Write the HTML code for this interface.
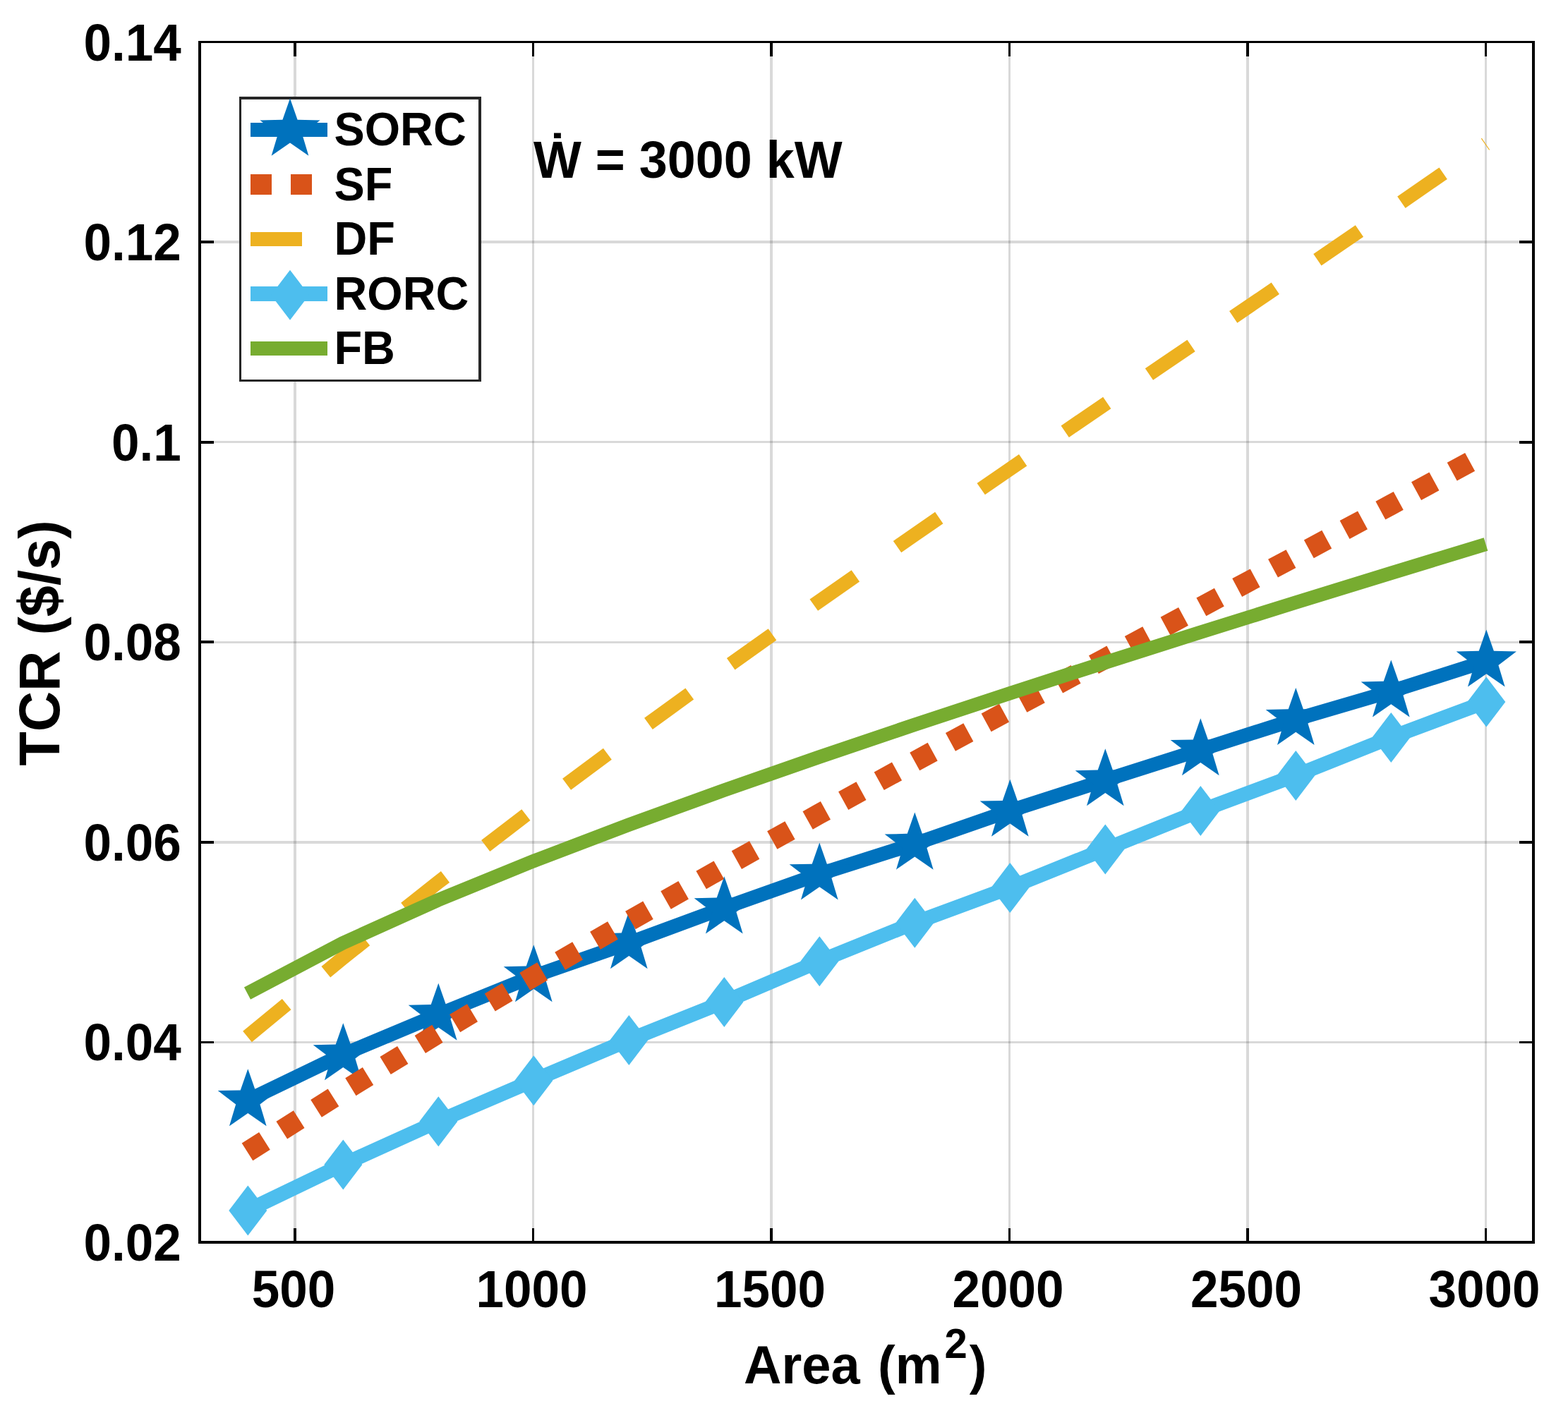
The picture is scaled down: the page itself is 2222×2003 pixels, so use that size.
<!DOCTYPE html>
<html><head><meta charset="utf-8"><title>TCR vs Area</title><style>html,body{margin:0;padding:0;background:#fff;overflow:hidden}svg{display:block}</style></head><body>
<svg width="2222" height="2003" viewBox="0 0 2222 2003">
<rect x="0" y="0" width="2222" height="2003" fill="#fff"/>
<path d="M418.00 61V1759 M755.50 61V1759 M1093.00 61V1759 M1430.50 61V1759 M1768.00 61V1759 M2105.50 61V1759" stroke="#262626" stroke-opacity="0.175" stroke-width="3.5" fill="none" shape-rendering="crispEdges"/>
<path d="M285 1477.42H2171 M285 1193.83H2171 M285 910.25H2171 M285 626.67H2171 M285 343.08H2171" stroke="#262626" stroke-opacity="0.175" stroke-width="3.5" fill="none" shape-rendering="crispEdges"/>
<polyline points="350.50,1559.94 485.50,1495.00 620.50,1438.57 755.50,1383.98 890.50,1337.04 1025.50,1287.13 1160.50,1239.21 1295.50,1196.39 1430.50,1149.45 1565.50,1106.06 1700.50,1062.96 1835.50,1019.85 1970.50,980.30 2105.50,937.33" fill="none" stroke="#0072BD" stroke-width="20" stroke-linejoin="miter"/>
<g fill="#0072BD"><polygon points="351.30,1515.14 361.88,1545.38 393.91,1546.10 368.42,1565.50 377.63,1596.18 351.30,1577.94 324.97,1596.18 334.18,1565.50 308.69,1546.10 340.72,1545.38"/><polygon points="486.30,1450.20 496.88,1480.44 528.91,1481.15 503.42,1500.56 512.63,1531.24 486.30,1513.00 459.97,1531.24 469.18,1500.56 443.69,1481.15 475.72,1480.44"/><polygon points="621.30,1393.77 631.88,1424.00 663.91,1424.72 638.42,1444.13 647.63,1474.81 621.30,1456.57 594.97,1474.81 604.18,1444.13 578.69,1424.72 610.72,1424.00"/><polygon points="756.30,1339.18 766.88,1369.41 798.91,1370.13 773.42,1389.54 782.63,1420.22 756.30,1401.98 729.97,1420.22 739.18,1389.54 713.69,1370.13 745.72,1369.41"/><polygon points="891.30,1292.24 901.88,1322.48 933.91,1323.20 908.42,1342.61 917.63,1373.29 891.30,1355.04 864.97,1373.29 874.18,1342.61 848.69,1323.20 880.72,1322.48"/><polygon points="1026.30,1242.33 1036.88,1272.57 1068.91,1273.29 1043.42,1292.69 1052.63,1323.38 1026.30,1305.13 999.97,1323.38 1009.18,1292.69 983.69,1273.29 1015.72,1272.57"/><polygon points="1161.30,1194.41 1171.88,1224.64 1203.91,1225.36 1178.42,1244.77 1187.63,1275.45 1161.30,1257.21 1134.97,1275.45 1144.18,1244.77 1118.69,1225.36 1150.72,1224.64"/><polygon points="1296.30,1151.59 1306.88,1181.82 1338.91,1182.54 1313.42,1201.95 1322.63,1232.63 1296.30,1214.39 1269.97,1232.63 1279.18,1201.95 1253.69,1182.54 1285.72,1181.82"/><polygon points="1431.30,1104.65 1441.88,1134.89 1473.91,1135.61 1448.42,1155.01 1457.63,1185.70 1431.30,1167.45 1404.97,1185.70 1414.18,1155.01 1388.69,1135.61 1420.72,1134.89"/><polygon points="1566.30,1061.26 1576.88,1091.50 1608.91,1092.22 1583.42,1111.63 1592.63,1142.31 1566.30,1124.06 1539.97,1142.31 1549.18,1111.63 1523.69,1092.22 1555.72,1091.50"/><polygon points="1701.30,1018.16 1711.88,1048.40 1743.91,1049.12 1718.42,1068.52 1727.63,1099.20 1701.30,1080.96 1674.97,1099.20 1684.18,1068.52 1658.69,1049.12 1690.72,1048.40"/><polygon points="1836.30,975.05 1846.88,1005.29 1878.91,1006.01 1853.42,1025.42 1862.63,1056.10 1836.30,1037.85 1809.97,1056.10 1819.18,1025.42 1793.69,1006.01 1825.72,1005.29"/><polygon points="1971.30,935.50 1981.88,965.73 2013.91,966.45 1988.42,985.86 1997.63,1016.54 1971.30,998.30 1944.97,1016.54 1954.18,985.86 1928.69,966.45 1960.72,965.73"/><polygon points="2106.30,892.53 2116.88,922.77 2148.91,923.49 2123.42,942.89 2132.63,973.58 2106.30,955.33 2079.97,973.58 2089.18,942.89 2063.69,923.49 2095.72,922.77"/></g>
<polyline points="350.50,1632.89 485.50,1547.64 620.50,1464.95 755.50,1384.54 890.50,1306.11 1025.50,1229.39 1160.50,1154.08 1295.50,1079.91 1430.50,1006.57 1565.50,933.80 1700.50,861.30 1835.50,788.79 1970.50,715.99 2105.50,642.60" fill="none" stroke="#D95319" stroke-width="29.3" stroke-dasharray="28.9 28.784"/>
<polyline points="350.50,1469.50 485.50,1358.30 620.50,1251.04 755.50,1147.29 890.50,1046.58 1025.50,948.49 1160.50,852.55 1295.50,758.33 1430.50,665.37 1565.50,573.23 1700.50,481.47 1835.50,389.64 1970.50,297.29 2105.50,203.97" fill="none" stroke="#EDB120" stroke-width="20" stroke-dasharray="72.116 72.116"/>
<polyline points="350.50,1716.05 485.50,1650.97 620.50,1589.72 755.50,1531.72 890.50,1474.44 1025.50,1420.42 1160.50,1362.85 1295.50,1308.26 1430.50,1258.49 1565.50,1203.90 1700.50,1149.59 1835.50,1099.40 1970.50,1045.52 2105.50,995.04" fill="none" stroke="#4DBEEE" stroke-width="20.5"/>
<g fill="#4DBEEE"><polygon points="351.30,1680.55 378.30,1716.05 351.30,1751.55 324.30,1716.05"/><polygon points="486.30,1615.47 513.30,1650.97 486.30,1686.47 459.30,1650.97"/><polygon points="621.30,1554.22 648.30,1589.72 621.30,1625.22 594.30,1589.72"/><polygon points="756.30,1496.22 783.30,1531.72 756.30,1567.22 729.30,1531.72"/><polygon points="891.30,1438.94 918.30,1474.44 891.30,1509.94 864.30,1474.44"/><polygon points="1026.30,1384.92 1053.30,1420.42 1026.30,1455.92 999.30,1420.42"/><polygon points="1161.30,1327.35 1188.30,1362.85 1161.30,1398.35 1134.30,1362.85"/><polygon points="1296.30,1272.76 1323.30,1308.26 1296.30,1343.76 1269.30,1308.26"/><polygon points="1431.30,1222.99 1458.30,1258.49 1431.30,1293.99 1404.30,1258.49"/><polygon points="1566.30,1168.40 1593.30,1203.90 1566.30,1239.40 1539.30,1203.90"/><polygon points="1701.30,1114.09 1728.30,1149.59 1701.30,1185.09 1674.30,1149.59"/><polygon points="1836.30,1063.90 1863.30,1099.40 1836.30,1134.90 1809.30,1099.40"/><polygon points="1971.30,1010.02 1998.30,1045.52 1971.30,1081.02 1944.30,1045.52"/><polygon points="2106.30,959.54 2133.30,995.04 2106.30,1030.54 2079.30,995.04"/></g>
<polyline points="350.50,1408.16 485.50,1336.92 620.50,1276.02 755.50,1220.84 890.50,1169.32 1025.50,1120.32 1160.50,1073.20 1295.50,1027.52 1430.50,982.97 1565.50,939.36 1700.50,896.51 1835.50,854.31 1970.50,812.67 2105.50,771.51" fill="none" stroke="#77AC30" stroke-width="19.5"/>
<path d="M418.00 1761V1741 M418.00 59.5V79.5 M755.50 1761V1741 M755.50 59.5V79.5 M1093.00 1761V1741 M1093.00 59.5V79.5 M1430.50 1761V1741 M1430.50 59.5V79.5 M1768.00 1761V1741 M1768.00 59.5V79.5 M2105.50 1761V1741 M2105.50 59.5V79.5 M283 1477.42H303 M2173 1477.42H2153 M283 1193.83H303 M2173 1193.83H2153 M283 910.25H303 M2173 910.25H2153 M283 626.67H303 M2173 626.67H2153 M283 343.08H303 M2173 343.08H2153" stroke="#000" stroke-width="3.8" fill="none" shape-rendering="crispEdges"/>
<rect x="283" y="59.5" width="1890" height="1701.5" fill="none" stroke="#000" stroke-width="3.8" shape-rendering="crispEdges"/>
<g font-family="&#39;Liberation Sans&#39;, Arial, Helvetica, sans-serif" font-weight="bold" font-size="71" fill="#000"><text transform="translate(256.8 1787.00) scale(1 1.04)" text-anchor="end">0.02</text><text transform="translate(256.8 1503.42) scale(1 1.04)" text-anchor="end">0.04</text><text transform="translate(256.8 1219.83) scale(1 1.04)" text-anchor="end">0.06</text><text transform="translate(256.8 936.25) scale(1 1.04)" text-anchor="end">0.08</text><text transform="translate(256.8 652.67) scale(1 1.04)" text-anchor="end">0.1</text><text transform="translate(256.8 369.08) scale(1 1.04)" text-anchor="end">0.12</text><text transform="translate(256.8 85.50) scale(1 1.04)" text-anchor="end">0.14</text><text transform="translate(416.00 1852.8) scale(1 1.04)" text-anchor="middle">500</text><text transform="translate(753.50 1852.8) scale(1 1.04)" text-anchor="middle">1000</text><text transform="translate(1091.00 1852.8) scale(1 1.04)" text-anchor="middle">1500</text><text transform="translate(1428.50 1852.8) scale(1 1.04)" text-anchor="middle">2000</text><text transform="translate(1766.00 1852.8) scale(1 1.04)" text-anchor="middle">2500</text><text transform="translate(2103.50 1852.8) scale(1 1.04)" text-anchor="middle">3000</text></g>
<text font-family="&#39;Liberation Sans&#39;, Arial, Helvetica, sans-serif" font-weight="bold" font-size="79.4" fill="#000" transform="translate(84 911.6) rotate(-90) scale(1 1.02)" text-anchor="middle">TCR ($/s)</text>
<text font-family="&#39;Liberation Sans&#39;, Arial, Helvetica, sans-serif" font-weight="bold" font-size="74" fill="#000" transform="translate(1054 1960.8) scale(1 1.035)">Area <tspan dx="5">(m</tspan><tspan font-size="58" dx="4" dy="-35">2</tspan><tspan dx="3" dy="35">)</tspan></text>
<text font-family="&#39;Liberation Sans&#39;, Arial, Helvetica, sans-serif" font-weight="bold" font-size="71.9" fill="#000" transform="translate(756 251.9) scale(1 1.04)">Ẇ = 3000 kW</text>
<rect x="340.5" y="139" width="339.5" height="400.5" fill="#fff" stroke="#262626" stroke-width="3.5" shape-rendering="crispEdges"/>
<line x1="355" y1="184" x2="464" y2="184" stroke="#0072BD" stroke-width="20"/>
<g fill="#0072BD"><polygon points="411.00,139.60 421.58,169.84 453.61,170.56 428.12,189.96 437.33,220.64 411.00,202.40 384.67,220.64 393.88,189.96 368.39,170.56 400.42,169.84"/></g>
<line x1="355" y1="261.5" x2="464" y2="261.5" stroke="#D95319" stroke-width="29" stroke-dasharray="30 27"/>
<line x1="355" y1="339" x2="464" y2="339" stroke="#EDB120" stroke-width="20" stroke-dasharray="73 73"/>
<line x1="355" y1="416.5" x2="464" y2="416.5" stroke="#4DBEEE" stroke-width="21"/>
<g fill="#4DBEEE"><polygon points="411.00,382.80 438.00,418.30 411.00,453.80 384.00,418.30"/></g>
<line x1="355" y1="494" x2="464" y2="494" stroke="#77AC30" stroke-width="20"/>
<g font-family="&#39;Liberation Sans&#39;, Arial, Helvetica, sans-serif" font-weight="bold" font-size="64.8" fill="#000"><text transform="translate(473.5 206.00) scale(1 1.025)">SORC</text><text transform="translate(473.5 283.50) scale(1 1.025)">SF</text><text transform="translate(473.5 361.00) scale(1 1.025)">DF</text><text transform="translate(473.5 438.50) scale(1 1.025)">RORC</text><text transform="translate(473.5 516.00) scale(1 1.025)">FB</text></g>
</svg></body></html>
